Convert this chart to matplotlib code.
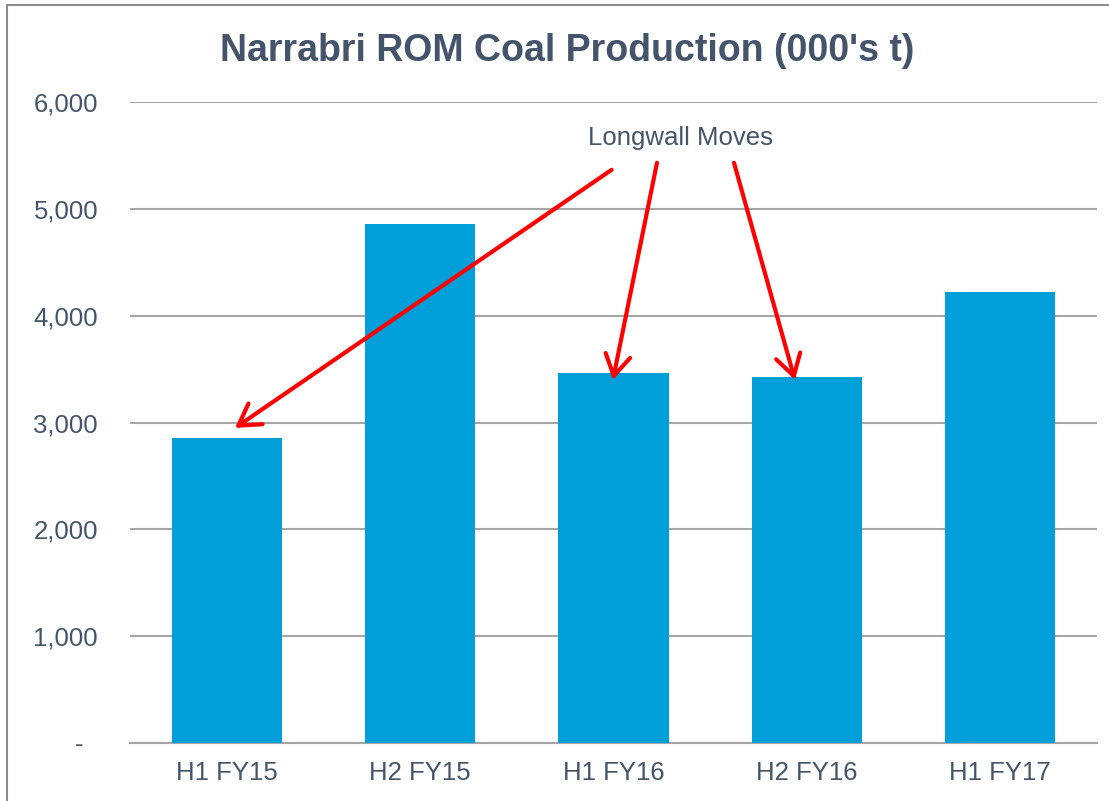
import matplotlib
matplotlib.use("Agg")
import matplotlib.pyplot as plt
from matplotlib.patches import Rectangle
from matplotlib.transforms import ScaledTranslation

# Veriler (000's t)
periods = ["H1 FY15", "H2 FY15", "H1 FY16", "H2 FY16", "H1 FY17"]
production = [2856, 4859, 3464, 3427, 4223]
y_ticks = [0, 1000, 2000, 3000, 4000, 5000, 6000]
y_labels = ["-", "1,000", "2,000", "3,000", "4,000", "5,000", "6,000"]

# Longwall hareket okları: (kuyruk, uç) veri koordinatlarında
arrow_tails = [(1.99, 5365), (2.225, 5431), (2.623, 5431)]
arrow_heads = [(0.043, 2949), (1.997, 3399), (2.938, 3399)]

bar_color = "#009FDA"
text_color = "#44546A"
grid_color = "#A6A6A6"

plt.rcParams['font.family'] = ['Liberation Sans', 'DejaVu Sans']

fig = plt.figure(figsize=(11.09, 8.01), dpi=100)
ax = fig.add_axes([130 / 1109, 1 - 743 / 801, 967 / 1109, 641 / 801])

# dış çerçeve
fig.patches.append(Rectangle((7 / 1109, -0.1), 1.2, 1 - 5 / 801 + 0.1,
                             transform=fig.transFigure, fill=False,
                             edgecolor="#8C8C8C", linewidth=1.5))

x = range(len(periods))
ax.bar(x, production, width=0.57, color=bar_color, zorder=3)

ax.set_xlim(-0.5, len(periods) - 0.5)
ax.set_ylim(0, 6000)
ax.set_yticks(y_ticks)
ax.set_yticklabels(y_labels)
ax.set_xticks(list(x))
ax.set_xticklabels(periods)
ax.yaxis.grid(True, color=grid_color, linewidth=1.5, zorder=0)
ax.set_axisbelow(True)

for side in ["left", "right", "top"]:
    ax.spines[side].set_visible(False)
ax.spines["bottom"].set_color(grid_color)
ax.spines["bottom"].set_linewidth(1.5)
ax.tick_params(axis="both", length=0, labelsize=18.5, colors=text_color)
ax.tick_params(axis="y", pad=23)
ax.tick_params(axis="x", pad=13)

# sıfır etiketini biraz sola kaydır (muhasebe formatı gibi)
zero_lbl = ax.get_yticklabels()[0]
zero_lbl.set_transform(zero_lbl.get_transform() + ScaledTranslation(-15 / 100, 0, fig.dpi_scale_trans))

fig.text(567 / 1109, 1 - 61 / 801, "Narrabri ROM Coal Production (000's t)",
         ha="center", va="baseline", fontsize=27, fontweight="bold", color=text_color)

ax.text(2.349, 5665, "Longwall Moves", ha="center", va="center",
        fontsize=18.5, color=text_color)

for tail, head in zip(arrow_tails, arrow_heads):
    ax.annotate("", xy=head, xytext=tail,
                arrowprops=dict(arrowstyle="->,head_length=0.75,head_width=0.45",
                                color="red", lw=3, mutation_scale=20,
                                shrinkA=0, shrinkB=0), zorder=5)

fig.savefig("out.png", dpi=100)
